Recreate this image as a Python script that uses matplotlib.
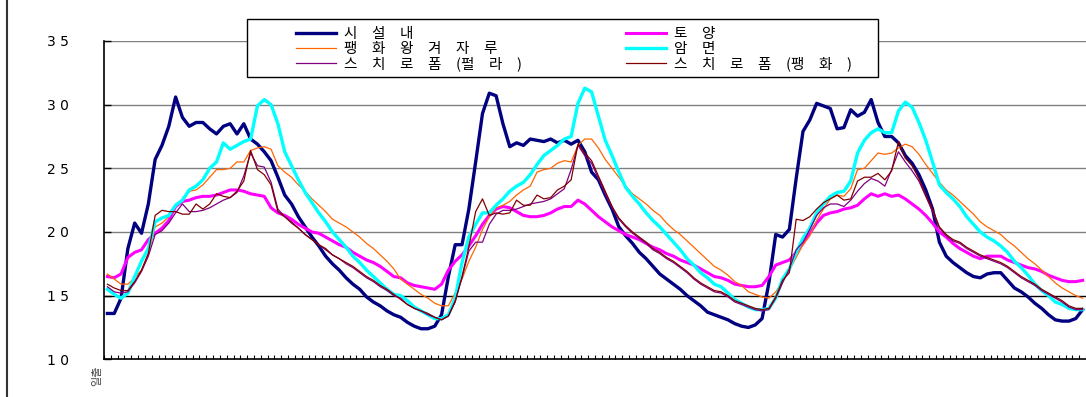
import numpy as np
import matplotlib
matplotlib.use('Agg')
from matplotlib import pyplot as plt
from matplotlib.lines import Line2D
from matplotlib.patches import Rectangle

plt.rcParams['font.family'] = ['Noto Sans CJK KR', 'DejaVu Sans']

# 30-minute readings over three days
inside = [13.6, 13.6, 14.8, 18.7, 20.7, 19.9, 22.2, 25.7, 26.8, 28.3, 30.6, 29.0, 28.3, 28.6, 28.6,
          28.1, 27.7, 28.3, 28.5, 27.7, 28.5, 27.3, 26.9, 26.3, 25.6, 24.3, 22.9, 22.2, 21.2, 20.4,
          19.6, 18.9, 18.1, 17.5, 17.0, 16.4, 15.9, 15.5, 14.9, 14.5, 14.2, 13.8, 13.5,
          13.3, 12.9, 12.6, 12.4, 12.4, 12.6, 13.5, 16.5, 19.0, 19.0, 21.8, 25.5, 29.3, 30.9, 30.7,
          28.5, 26.7, 27.0, 26.8, 27.3, 27.2, 27.1, 27.3, 27.0, 27.2, 26.9, 27.2, 26.3, 24.7, 24.1,
          22.9, 21.8, 20.4, 19.7, 19.1, 18.4, 17.9, 17.3, 16.7, 16.3, 15.9, 15.5, 15.0, 14.6, 14.2,
          13.7, 13.5,
          13.3, 13.1, 12.8, 12.6, 12.5, 12.7, 13.2, 16.0, 19.8, 19.6, 20.2, 24.2, 27.9, 28.8, 30.1,
          29.9, 29.7, 28.1, 28.2, 29.6, 29.1, 29.4, 30.4, 28.6, 27.5, 27.5, 27.0, 26.0, 25.4, 24.5,
          23.3, 21.8, 19.2, 18.1, 17.6, 17.2, 16.8, 16.5, 16.4, 16.7, 16.8, 16.8, 16.2, 15.6, 15.3,
          14.9, 14.4, 14.0, 13.5, 13.1, 13.0, 13.0, 13.2, 13.9]

soil = [16.5, 16.4, 16.7, 18.0, 18.4, 18.6, 19.4, 19.9, 20.3, 20.9, 22.0, 22.4, 22.5, 22.7, 22.8,
        22.8, 22.9, 23.1, 23.3, 23.3, 23.2, 23.0, 22.9, 22.8, 21.9, 21.5, 21.3, 21.0, 20.6, 20.3,
        20.0, 19.9, 19.6, 19.3, 19.0, 18.8, 18.4, 18.1, 17.8, 17.6, 17.3, 16.9, 16.5,
        16.4, 16.0, 15.8, 15.7, 15.6, 15.5, 15.9, 17.0, 17.7, 18.2, 18.9, 19.7, 20.6, 21.3, 21.8,
        22.0, 21.9, 21.6, 21.3, 21.2, 21.2, 21.3, 21.5, 21.8, 22.0, 22.0, 22.5, 22.2, 21.7, 21.2,
        20.8, 20.4, 20.1, 19.8, 19.6, 19.4, 19.1, 18.8, 18.6, 18.3, 18.1, 17.8, 17.6, 17.4, 17.1,
        16.8, 16.5,
        16.4, 16.2, 15.9, 15.8, 15.7, 15.7, 15.8, 16.5, 17.4, 17.6, 17.8, 18.4, 19.1, 19.9, 20.7,
        21.3, 21.5, 21.6, 21.8, 21.9, 22.1, 22.6, 23.0, 22.8, 23.0, 22.8, 22.9, 22.6, 22.2, 21.8,
        21.3, 20.7, 20.0, 19.6, 19.1, 18.7, 18.4, 18.1, 17.9, 18.1, 18.1, 18.1, 17.8, 17.6, 17.4,
        17.2, 17.1, 16.9, 16.6, 16.4, 16.2, 16.1, 16.1, 16.2]

husk_bag = [16.7, 16.3, 15.9, 15.9, 16.4, 17.0, 18.3, 20.4, 20.7, 21.2, 22.1, 22.4, 23.2, 23.3, 23.7,
            24.3, 24.9, 24.9, 25.0, 25.5, 25.5, 26.4, 26.6, 26.7, 26.5, 25.2, 24.7, 24.3, 23.7, 23.2,
            22.6, 22.1, 21.6, 21.0, 20.7, 20.4, 20.0, 19.6, 19.1, 18.7, 18.2, 17.7, 17.1,
            16.3, 15.9, 15.5, 15.1, 14.8, 14.4, 14.2, 14.2, 15.2, 16.3, 17.7, 18.8, 20.2, 21.2, 21.9,
            22.1, 22.4, 22.9, 23.3, 23.6, 24.7, 24.9, 25.0, 25.4, 25.6, 25.5, 26.8, 27.3, 27.3, 26.6,
            25.7, 25.0, 24.3, 23.6, 23.0, 22.6, 22.2, 21.7, 21.3, 20.7, 20.2, 19.8, 19.3, 18.8, 18.3,
            17.8, 17.3,
            17.0, 16.6, 16.1, 15.8, 15.3, 15.1, 14.9, 14.8, 15.3, 16.1, 17.0, 18.0, 19.0, 19.7, 20.9,
            21.8, 22.6, 22.9, 22.8, 23.4, 24.9, 25.0, 25.6, 26.2, 26.1, 26.2, 26.6, 26.9, 26.7, 26.1,
            25.3, 24.6, 23.9, 23.3, 22.9, 22.4, 21.9, 21.4, 20.8, 20.4, 20.1, 19.8, 19.3, 18.9, 18.4,
            17.9, 17.5, 17.0, 16.5, 16.0, 15.6, 15.3, 15.0, 14.8]

rockwool = [15.5, 15.1, 14.8, 15.2, 16.5, 17.7, 18.7, 20.8, 21.1, 21.3, 22.1, 22.5, 23.3, 23.6, 24.1,
            25.0, 25.5, 27.0, 26.5, 26.8, 27.1, 27.3, 29.9, 30.4, 30.0, 28.5, 26.3, 25.2, 24.1, 23.1,
            22.3, 21.5, 20.8, 20.0, 19.4, 18.8, 18.1, 17.6, 17.0, 16.5, 16.0, 15.5, 15.1,
            15.0, 14.6, 14.1, 13.8, 13.5, 13.2, 13.2, 13.5, 14.8, 17.6, 19.6, 20.6, 21.5, 21.5, 22.1,
            22.6, 23.2, 23.6, 23.9, 24.5, 25.3, 26.0, 26.4, 26.8, 27.3, 27.5, 30.1, 31.3, 31.0, 29.1,
            27.2, 26.0, 24.7, 23.5, 22.8, 22.2, 21.5, 20.9, 20.4, 19.8, 19.2, 18.6, 17.9, 17.4, 16.8,
            16.4, 15.9,
            15.7, 15.2, 14.7, 14.4, 14.1, 13.9, 13.9, 14.0, 14.8, 16.3, 17.1, 18.4, 19.5, 20.3, 21.5,
            22.2, 22.8, 23.1, 23.2, 24.0, 26.2, 27.2, 27.8, 28.1, 27.8, 27.8, 29.5, 30.2, 29.8, 28.6,
            27.2, 25.5, 23.7, 23.1, 22.6, 22.0, 21.2, 20.6, 20.0, 19.6, 19.3, 18.9, 18.4, 17.7, 17.2,
            16.6, 15.9, 15.4, 15.0, 14.5, 14.3, 14.0, 13.9, 13.9]

styro_perlite = [15.7, 15.3, 15.2, 15.3, 16.0, 16.9, 18.1, 19.8, 20.1, 20.7, 21.5, 22.2, 21.6, 21.6, 21.7,
                 21.9, 22.2, 22.5, 22.7, 23.1, 24.4, 26.2, 25.2, 25.1, 23.9, 21.8, 21.2, 20.8, 20.3, 19.8,
                 19.4, 19.0, 18.6, 18.2, 17.9, 17.5, 17.2, 16.8, 16.4, 16.1, 15.7, 15.4, 15.0,
                 14.8, 14.3, 14.0, 13.8, 13.5, 13.3, 13.1, 13.4, 14.6, 16.4, 18.5, 19.2, 19.2, 20.6, 21.4,
                 21.7, 21.7, 21.8, 22.0, 22.2, 22.3, 22.4, 22.6, 23.0, 23.4, 24.9, 26.8, 26.0, 25.4, 24.2,
                 23.0, 21.9, 21.0, 20.4, 19.9, 19.5, 19.1, 18.6, 18.3, 17.9, 17.6, 17.2, 16.8, 16.3, 15.9,
                 15.6, 15.3,
                 15.2, 14.9, 14.5, 14.3, 14.1, 13.9, 13.8, 13.9, 14.8, 16.0, 17.1, 18.6, 19.2, 20.2, 21.3,
                 21.9, 22.2, 22.2, 22.0, 22.5, 23.2, 23.8, 24.2, 24.0, 23.6, 24.9, 26.3, 25.5, 24.8, 24.0,
                 22.8, 21.6, 20.3, 19.7, 19.3, 19.1, 18.7, 18.4, 18.1, 17.9, 17.7, 17.5, 17.2, 16.8, 16.4,
                 16.1, 15.8, 15.4, 15.1, 14.8, 14.5, 14.1, 13.9, 13.9]

styro_husk = [15.9, 15.6, 15.4, 15.4, 16.1, 17.0, 18.3, 21.3, 21.7, 21.6, 21.6, 21.4, 21.4, 22.2, 21.8,
              22.2, 23.0, 22.8, 22.7, 23.2, 24.0, 26.4, 24.9, 24.5, 23.7, 21.6, 21.2, 20.7, 20.3, 19.8,
              19.4, 19.0, 18.7, 18.2, 17.9, 17.6, 17.3, 16.9, 16.5, 16.2, 15.8, 15.5, 15.1,
              14.7, 14.3, 14.0, 13.8, 13.6, 13.3, 13.1, 13.4, 14.5, 16.5, 18.8, 21.6, 22.6, 21.3, 21.5,
              21.4, 21.5, 22.5, 22.1, 22.1, 22.9, 22.6, 22.7, 23.3, 23.6, 24.1, 26.9, 26.2, 25.6, 24.4,
              23.2, 22.0, 21.1, 20.5, 20.0, 19.6, 19.2, 18.7, 18.4, 18.0, 17.7, 17.3, 16.9, 16.4, 16.0,
              15.7, 15.4,
              15.3, 15.0, 14.6, 14.4, 14.2, 14.0, 13.9, 14.0, 14.9, 16.2, 16.8, 21.0, 20.9, 21.2, 21.8,
              22.3, 22.6, 22.9, 22.5, 22.6, 24.0, 24.3, 24.3, 24.6, 24.1, 24.8, 27.1, 25.8, 25.2, 24.2,
              22.9, 21.8, 20.4, 19.8, 19.4, 19.2, 18.8, 18.5, 18.2, 18.0, 17.8, 17.6, 17.3, 16.9, 16.5,
              16.2, 15.9, 15.5, 15.2, 14.9, 14.6, 14.2, 14.0, 14.0]

labels = ['시\u3000설\u3000내', '토\u3000양', '팽\u3000화\u3000왕\u3000겨\u3000자\u3000루',
          '암\u3000면', '스\u3000치\u3000로\u3000폼\u3000(펄\u3000라\u3000)',
          '스\u3000치\u3000로\u3000폼\u3000(팽\u3000화\u3000)']
yticks = [10, 15, 20, 25, 30, 35]

W, H = 1086, 397
fig = plt.figure(figsize=(W / 100, H / 100), dpi=100)
ax = fig.add_axes([104 / W, 1 - 359.3 / H, 982 / W, (359.3 - 41) / H])

x = np.arange(len(inside))
l1, = ax.plot(x, inside, color='#000080', lw=2.4, zorder=3)
l2, = ax.plot(x, soil, color='#ff00ff', lw=2.2, zorder=3)
l3, = ax.plot(x, husk_bag, color='#ff6600', lw=0.9, zorder=3)
l4, = ax.plot(x, rockwool, color='#00ffff', lw=2.4, zorder=3)
l5, = ax.plot(x, styro_perlite, color='#800080', lw=0.9, zorder=3)
l6, = ax.plot(x, styro_husk, color='#800000', lw=0.9, zorder=3)

ax.set_xlim(-0.5, len(inside) - 0.5)
ax.set_ylim(10, 35)
ax.set_yticks(yticks)
ax.set_yticklabels([' '.join(str(v)) for v in yticks], fontsize=10, family='DejaVu Sans')
ax.set_xticks(np.arange(-0.5, len(inside), 1))
ax.set_xticklabels([])
ax.tick_params(axis='x', direction='in', length=3, width=0.8)
ax.tick_params(axis='y', direction='in', length=5, width=1, pad=25)

for v in yticks[1:]:
    ax.axhline(v, color='black' if v == 15 else '#808080', lw=1, zorder=1)

ax.spines['top'].set_visible(False)
ax.spines['right'].set_visible(False)
ax.spines['left'].set_linewidth(1.2)
ax.spines['bottom'].set_linewidth(1.2)

# legend box and two legend columns
fig.add_artist(Rectangle((247 / W, 1 - 77 / H), 631 / W, 58 / H, transform=fig.transFigure,
                         facecolor='white', edgecolor='black', lw=1, zorder=3))
kw = dict(loc='upper left', bbox_transform=fig.transFigure, frameon=False, borderpad=0,
          handlelength=2.7, handletextpad=0.55, labelspacing=0.05, prop={'size': 10.5})
fig.legend([l1, l3, l5], [labels[0], labels[2], labels[4]],
           bbox_to_anchor=(289 / W, 1 - 20 / H), **kw)
fig.legend([l2, l4, l6], [labels[1], labels[3], labels[5]],
           bbox_to_anchor=(619 / W, 1 - 20 / H), **kw)

fig.text(97 / W, 1 - 366 / H, '일출', rotation=90, ha='center', va='top', fontsize=8, color='#444444')
fig.add_artist(Line2D([7 / W, 7 / W], [0, 1], transform=fig.transFigure, color='#333333', lw=1.5))

fig.savefig('out.png', dpi=100)
